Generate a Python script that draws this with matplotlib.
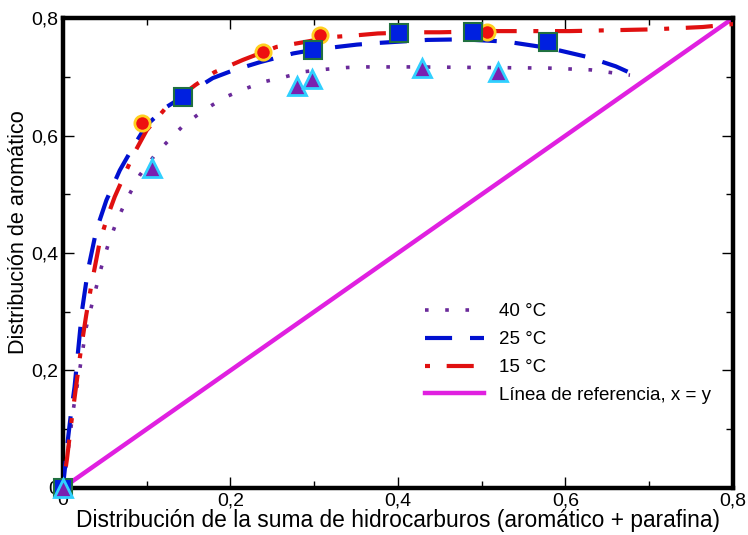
import matplotlib
matplotlib.use("Agg")
import matplotlib.pyplot as plt
from matplotlib.ticker import MultipleLocator, FuncFormatter

plt.rcParams['font.family'] = ['Liberation Sans', 'DejaVu Sans']

# Datos experimentales (marcadores)
x40 = [0.0, 0.106, 0.280, 0.297, 0.429, 0.519]
y40 = [0.0, 0.545, 0.684, 0.696, 0.715, 0.708]
x25 = [0.0, 0.143, 0.299, 0.401, 0.490, 0.579]
y25 = [0.0, 0.666, 0.746, 0.774, 0.776, 0.760]
x15 = [0.0, 0.094, 0.239, 0.307, 0.506]
y15 = [0.0, 0.621, 0.742, 0.771, 0.776]

# Curvas de ajuste
cx40 = [0.0, 0.006, 0.012, 0.020, 0.028, 0.036, 0.046, 0.054, 0.064, 0.076, 0.092,
        0.112, 0.143, 0.167, 0.193, 0.216, 0.241, 0.265, 0.289, 0.314, 0.339,
        0.363, 0.42, 0.50, 0.58, 0.63, 0.677]
cy40 = [0.0, 0.060, 0.129, 0.200, 0.274, 0.320, 0.376, 0.414, 0.453, 0.491, 0.533,
        0.571, 0.616, 0.642, 0.665, 0.679, 0.692, 0.700, 0.709, 0.713, 0.716,
        0.717, 0.717, 0.716, 0.715, 0.712, 0.703]
cx25 = [0.0, 0.003, 0.006, 0.010, 0.014, 0.018, 0.023, 0.030, 0.040, 0.052, 0.068,
        0.084, 0.100, 0.124, 0.143, 0.179, 0.203, 0.235, 0.275, 0.299, 0.327,
        0.351, 0.378, 0.435, 0.478, 0.530, 0.581, 0.626, 0.660, 0.691]
cy25 = [0.0, 0.040, 0.082, 0.130, 0.172, 0.230, 0.303, 0.371, 0.439, 0.490, 0.541,
        0.581, 0.618, 0.649, 0.666, 0.698, 0.711, 0.725, 0.740, 0.746, 0.751,
        0.755, 0.758, 0.763, 0.764, 0.760, 0.749, 0.734, 0.718, 0.698]
cx15 = [0.0, 0.005, 0.010, 0.016, 0.022, 0.028, 0.034, 0.044, 0.054, 0.062, 0.076,
        0.084, 0.100, 0.124, 0.158, 0.181, 0.215, 0.255, 0.283, 0.322, 0.352,
        0.376, 0.423, 0.450, 0.518, 0.605, 0.705, 0.764, 0.80]
cy15 = [0.0, 0.050, 0.110, 0.175, 0.240, 0.295, 0.345, 0.419, 0.465, 0.496, 0.541,
        0.567, 0.609, 0.649, 0.686, 0.708, 0.729, 0.751, 0.758, 0.768, 0.771,
        0.774, 0.776, 0.776, 0.778, 0.778, 0.781, 0.785, 0.79]
ref = [0.0, 0.8]

fig = plt.figure(figsize=(7.48, 5.35), dpi=100)
ax = fig.add_axes([0.084, 0.088, 0.896, 0.878])

purple = '#6a2a9a'
blue = '#0010d0'
red = '#e01010'
magenta = '#e020e0'

ax.plot(ref, ref, color=magenta, lw=3.2, label='Línea de referencia, x = y', zorder=2)
l40, = ax.plot(cx40, cy40, color=purple, lw=2.6, linestyle=(0, (1, 4.6)), label='40 °C', zorder=3)
l25, = ax.plot(cx25, cy25, color=blue, lw=3.0, linestyle=(0, (6.5, 4.3)), label='25 °C', zorder=3)
l15, = ax.plot(cx15, cy15, color=red, lw=3.0, linestyle=(0, (1.2, 4, 6.5, 4)), label='15 °C', zorder=3)
for l in (l40, l25, l15):
    l.set_dash_capstyle('butt')

ax.plot(x15, y15, linestyle='none', marker='o', ms=11, mfc='#ee1010', mec='#ffd020', mew=2,
        clip_on=False, zorder=4)
ax.plot(x25, y25, linestyle='none', marker='s', ms=12.5, mfc='#0020e0', mec='#207040', mew=1.5,
        clip_on=False, zorder=5)
ax.plot(x40, y40, linestyle='none', marker='^', ms=12.5, mfc='#7a20b0', mec='#30d0ff', mew=2,
        clip_on=False, zorder=6)

ax.set_xlim(0, 0.8)
ax.set_ylim(0, 0.8)
ax.xaxis.set_major_locator(MultipleLocator(0.2))
ax.yaxis.set_major_locator(MultipleLocator(0.2))
ax.xaxis.set_minor_locator(MultipleLocator(0.1))
ax.yaxis.set_minor_locator(MultipleLocator(0.1))
fmt = FuncFormatter(lambda v, p: '0' if abs(v) < 1e-9 else ('%.1f' % v).replace('.', ','))
ax.xaxis.set_major_formatter(fmt)
ax.yaxis.set_major_formatter(fmt)
ax.tick_params(which='both', direction='in', top=True, right=True, labelsize=14, pad=3)
ax.tick_params(which='major', length=8, width=1)
ax.tick_params(which='minor', length=5, width=1)
for s in ax.spines.values():
    s.set_linewidth(3.2)

ax.set_xlabel('Distribución de la suma de hidrocarburos (aromático + parafina)', fontsize=16.4, labelpad=0)
ax.set_ylabel('Distribución de aromático', fontsize=15.6)
ax.yaxis.set_label_coords(-0.050, 0.545)

handles = [l40, l25, l15, ax.lines[0]]
ax.legend(handles=handles, loc='upper left', bbox_to_anchor=(0.541, 0.393), frameon=False,
          fontsize=13.5, handlelength=3.1, handletextpad=0.8, labelspacing=0.57,
          borderpad=0, borderaxespad=0)

fig.savefig('out.png', dpi=100)
